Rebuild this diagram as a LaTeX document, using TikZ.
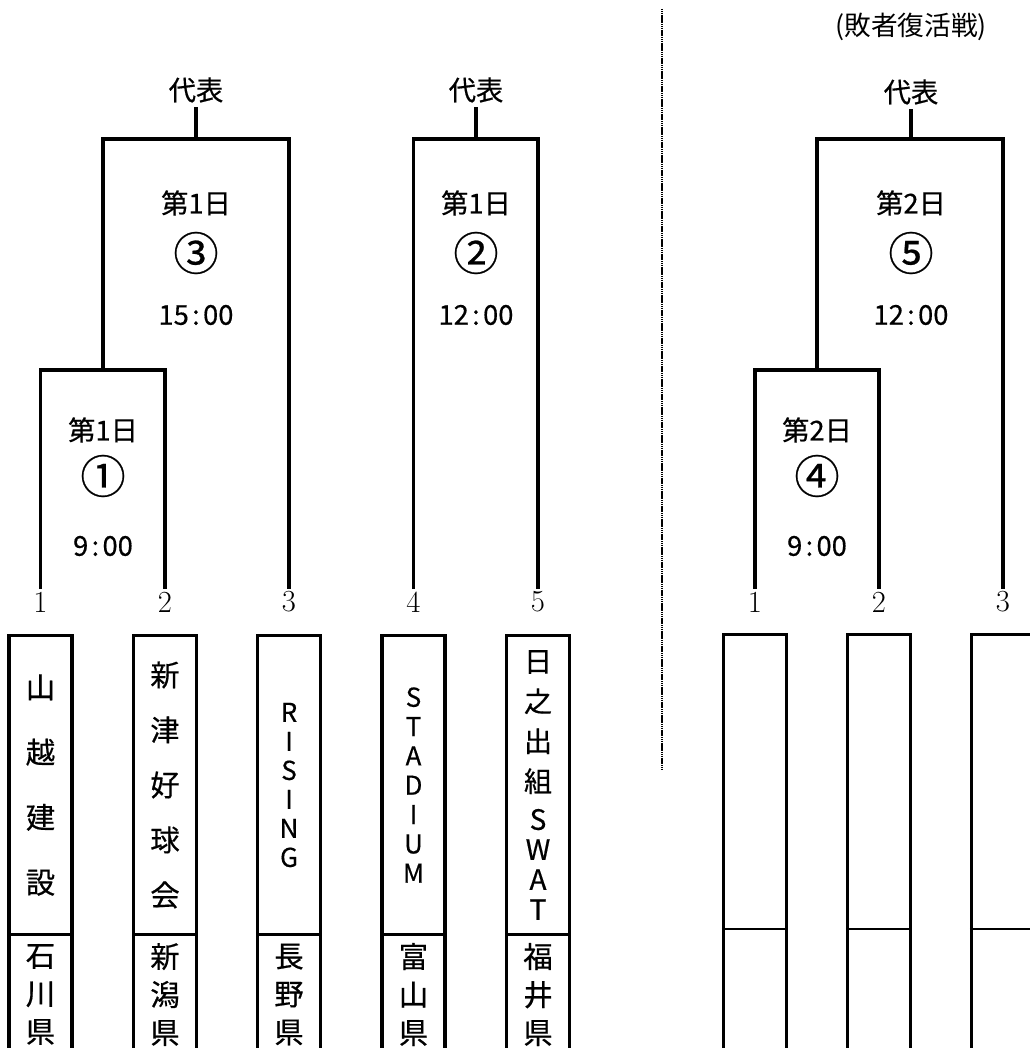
\documentclass[tikz,border=0pt]{standalone}
\usepackage{fontspec}
\newfontfamily\jp{Noto Sans CJK JP}[FakeBold=0.5]
\newfontfamily\jplight{Noto Sans CJK JP}
\usetikzlibrary{positioning}
\newcommand{\hm}[2]{#1\kern2.5pt:\kern2.5pt#2}
\tikzset{
  bracket/.style={line width=2.4pt, line join=miter},
  rep/.style={font=\jp\fontsize{20.5}{24}\selectfont, inner sep=3pt},
  day/.style={font=\jp\fontsize{20.5}{24}\selectfont},
  game/.style={font=\jp\fontsize{34}{36}\selectfont, inner sep=0pt},
  seed/.style={font=\fontsize{23}{24}\selectfont, inner sep=2pt},
  namebox/.style 2 args={draw, line width=2.3pt, minimum width=47.25pt, minimum height=224.25pt,
    anchor=north, align=center, inner sep=0pt, font=\jp\fontsize{#1}{#2}\selectfont},
  prefbox/.style={draw, line width=2.3pt, minimum width=47.25pt, minimum height=90pt,
    anchor=north, align=center, inner sep=0pt, font=\jp\fontsize{22}{28.5}\selectfont},
  blankbox/.style={draw, line width=2.3pt, minimum width=47.25pt, minimum height=320pt, anchor=north},
  divider/.style={line width=1.5pt},
  sep/.style={line width=1.8pt, dash pattern=on 1pt off 0.4pt}
}

\begin{document}
\begin{tikzpicture}[x=0.75pt, y=-0.75pt]
\useasboundingbox (0,0) rectangle (1030,1048);

% main draw
\node[seed] (s1) at (40.5,602) {1};
\node[seed] (s2) at (165,602) {2};
\node[seed] (s3) at (289,602) {3};
\node[seed] (s4) at (413.5,602) {4};
\node[seed] (s5) at (538,602) {5};

\coordinate (j1) at (103,370);
\coordinate (j3) at (196,139);
\coordinate (j2) at (476,139);

\node[rep] (rep1) at (196,90) {代表};
\node[rep] (rep2) at (476,90) {代表};

\node[day] (d1) at (103,430) {第1日};
\node[game] (g1) at (103,476) {①};
\node[day] (t1) at (103,546) {\hm{9}{00}};
\node[day] (d3) at (196,203) {第1日};
\node[game] (g3) at (196,253) {③};
\node[day] (t3) at (196,315) {\hm{15}{00}};
\node[day] (d2) at (476,203) {第1日};
\node[game] (g2) at (476,253) {②};
\node[day] (t2) at (476,315) {\hm{12}{00}};

\draw[bracket] (s1.north) |- (j1) -| (s2.north);
\draw[bracket] (j1) |- (j3) -| (s3.north);
\draw[bracket] (j3) -- (rep1.south);
\draw[bracket] (s4.north) |- (j2) -| (s5.north);
\draw[bracket] (j2) -- (rep2.south);

\node[namebox={22}{48.75}] (team1) at (40.5,634) {山\\越\\建\\設};
\node[namebox={22}{41.25}] (team2) at (165,634) {新\\津\\好\\球\\会};
\node[namebox={19.5}{21.75}] (team3) at (289,634) {R\\I\\S\\I\\N\\G};
\node[namebox={19.5}{22}] (team4) at (413.5,634) {S\\T\\A\\D\\I\\U\\M};
\node[namebox={21}{22.5}] (team5) at (538,634) {日\\[7.5pt]之\\[7.5pt]出\\[7.5pt]組\\[6pt]S\\W\\A\\T};

\node[prefbox] (pref1) at (40.5,933) {石\\川\\県};
\node[prefbox] (pref2) at (165,933) {新\\潟\\県};
\node[prefbox] (pref3) at (289,933) {長\\野\\県};
\node[prefbox] (pref4) at (413.5,933) {富\\山\\県};
\node[prefbox] (pref5) at (538,933) {福\\井\\県};

% separator
\coordinate (septop) at (662,9);
\coordinate (sepbot) at (662,770);
\draw[sep] (septop) -- (sepbot);

% loser bracket
\node[font=\jplight\fontsize{20}{22}\selectfont] (title) at (911,27) {(敗者復活戦)};

\node[seed] (r1) at (755,602) {1};
\node[seed] (r2) at (879,602) {2};
\node[seed] (r3) at (1003,602) {3};

\coordinate (j4) at (817,370);
\coordinate (j5) at (911,139);

\node[rep] (rep3) at (911,92) {代表};
\node[day] (d5) at (911,203) {第2日};
\node[game] (g5) at (911,253) {⑤};
\node[day] (t5) at (911,315) {\hm{12}{00}};
\node[day] (d4) at (817,430) {第2日};
\node[game] (g4) at (817,476) {④};
\node[day] (t4) at (817,546) {\hm{9}{00}};

\draw[bracket] (r1.north) |- (j4) -| (r2.north);
\draw[bracket] (j4) |- (j5) -| (r3.north);
\draw[bracket] (j5) -- (rep3.south);

\node[blankbox] (blank1) at (755,633) {};
\node[blankbox] (blank2) at (879,633) {};
\node[blankbox] (blank3) at (1003,633) {};
\coordinate (cut) at (0,929);
\draw[divider] (blank1.west |- cut) -- (blank1.east |- cut);
\draw[divider] (blank2.west |- cut) -- (blank2.east |- cut);
\draw[divider] (blank3.west |- cut) -- (blank3.east |- cut);
\end{tikzpicture}
\end{document}
